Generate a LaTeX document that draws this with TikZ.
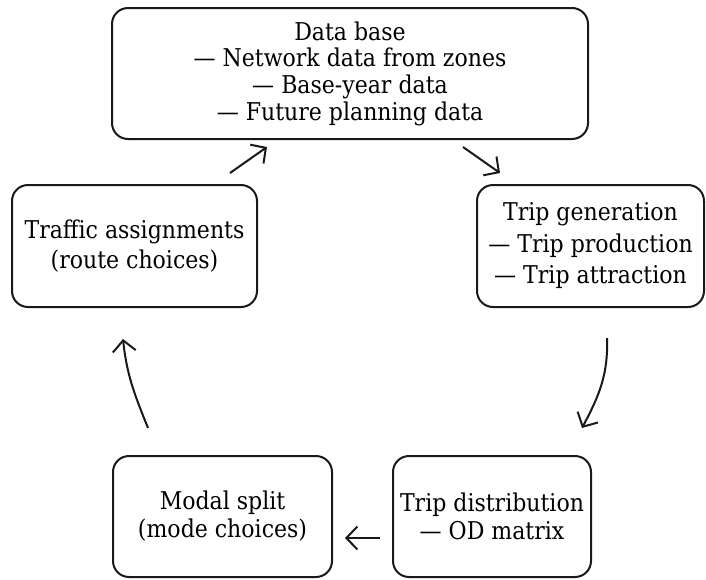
\documentclass[tikz,border=0pt]{standalone}
\usepackage{fontspec}
\setmainfont{DejaVu Serif Condensed}
\usetikzlibrary{arrows.meta}
\tikzset{
  stage/.style={draw=black!90, line width=2pt, rounded corners=16pt, align=center,
    inner sep=0pt, font=\fontsize{24.5}{28}\selectfont},
  flow/.style={line width=2pt, draw=black!90,
    -{Straight Barb[length=11pt,width=23pt,line width=2pt]}}
}
\begin{document}
\begin{tikzpicture}[x=1pt,y=-1pt]
\useasboundingbox (0,0) rectangle (706,579);
% the five stages of the planning cycle
\node[stage, minimum width=476pt, minimum height=131pt, font=\fontsize{24.5}{26.7}\selectfont] (db) at (350,73.5)
  {Data base\\— Network data from zones\\— Base-year data\\— Future planning data};
\node[stage, minimum width=227pt, minimum height=122pt, font=\fontsize{24.5}{31.5}\selectfont] (gen) at (590.5,246)
  {Trip generation\\— Trip production\\— Trip attraction};
\node[stage, minimum width=198pt, minimum height=121pt] (dist) at (492,516.5)
  {Trip distribution\\— OD matrix};
\node[stage, minimum width=219pt, minimum height=121pt] (modal) at (222.5,516.5)
  {Modal split\\(mode choices)};
\node[stage, minimum width=245pt, minimum height=122pt, font=\fontsize{24.5}{30}\selectfont] (assign) at (134.5,246)
  {Traffic assignments\\(route choices)};
% arrow end points between the stages
\coordinate (a1) at (230,173); \coordinate (a2) at (267,147);
\coordinate (b1) at (463,147); \coordinate (b2) at (500,173);
\coordinate (c1) at (607,338); \coordinate (c2) at (582,428);
\coordinate (d1) at (380,538); \coordinate (d2) at (345,538);
\coordinate (e1) at (148,428); \coordinate (e2) at (123,339);
\draw[flow] (a1) -- (a2);
\draw[flow] (b1) -- (b2);
\draw[flow] (c1) to[out=-88,in=62] (c2);
\draw[flow] (d1) -- (d2);
\draw[flow] (e1) to[out=112,in=-84] (e2);
\end{tikzpicture}
\end{document}
